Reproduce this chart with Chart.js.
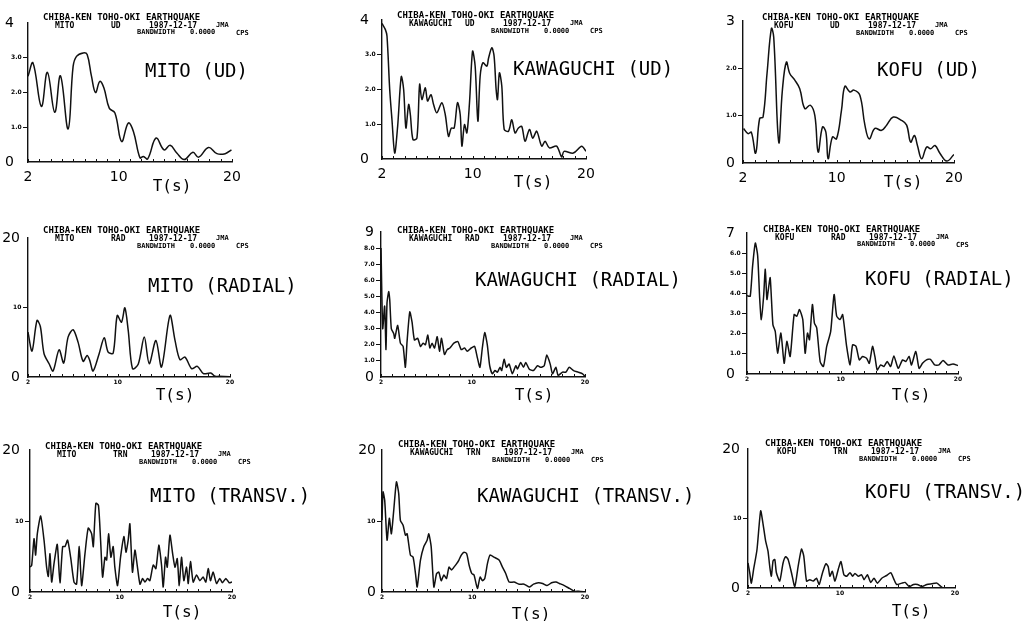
<!DOCTYPE html>
<html>
<head>
<meta charset="utf-8">
<script src="https://cdn.jsdelivr.net/npm/chart.js@4.4.1/dist/chart.umd.min.js"></script>
<style>
  html, body { margin: 0; padding: 0; background: #fff; overflow: hidden; width: 1023px; height: 621px; }
  canvas { position: absolute; }
</style>
</head>
<body>
<script>
// periods (s) and spectral amplitudes
var mitoUdT = [2.0,2.44,3.18,3.71,4.36,4.86,5.54,5.98,6.28,6.87,7.22,7.6,7.96,8.34,8.7,9.17,9.67,10.26,10.85,11.3,11.88,12.18,12.56,13.3,14.0,14.54,15.13,15.78,16.55,17.05,17.93,18.67,19.4,19.95];
var mitoUdA = [2.47,2.85,1.6,2.58,1.43,2.48,0.95,2.75,3.04,3.14,3.09,2.47,2.0,2.32,2.13,1.55,1.41,0.59,1.12,0.88,0.12,0.16,0.09,0.69,0.35,0.48,0.26,0.07,0.28,0.14,0.42,0.24,0.24,0.35];

var kawaUdT = [2.0,2.29,2.44,2.68,2.88,3.12,3.38,3.7,3.91,4.11,4.35,4.5,4.73,5.08,5.32,5.52,5.82,6.02,6.32,6.55,6.84,7.28,7.58,7.87,8.11,8.37,8.66,8.9,9.05,9.28,9.49,9.72,9.99,10.22,10.46,10.66,10.9,11.25,11.4,11.69,11.89,12.07,12.19,12.36,12.57,12.78,13.16,13.45,13.74,14.04,14.33,14.62,15.01,15.3,15.65,16.09,16.39,16.77,17.41,17.85,18.06,18.88,19.62,20.0];
var kawaUdA = [3.9,3.73,3.54,2.0,1.13,0.17,0.94,2.37,2.0,0.89,1.57,1.28,0.56,0.6,2.15,1.71,2.05,1.67,1.85,1.57,1.33,1.62,1.28,0.65,0.89,0.89,1.62,1.28,0.37,0.99,0.75,1.62,3.1,2.67,1.09,2.38,2.77,2.67,2.9,3.2,2.96,2.0,1.71,2.48,2.1,0.85,0.8,1.13,0.75,0.89,0.94,0.51,0.85,0.6,0.8,0.37,0.51,0.32,0.37,0.06,0.22,0.17,0.37,0.22];

var kofuUdT = [2.05,2.43,2.71,3.08,3.42,3.71,4.05,4.42,4.62,5.05,5.36,5.7,5.99,6.42,6.84,7.27,7.75,8.13,8.41,8.78,9.07,9.26,9.63,9.98,10.4,10.69,11.12,11.46,11.97,12.4,12.77,13.25,13.82,14.25,14.82,15.53,15.96,16.3,16.62,16.88,17.24,17.67,18.01,18.38,18.81,19.38,20.0];
var kofuUdA = [0.73,0.62,0.65,0.21,0.94,0.97,1.89,2.84,2.66,0.44,1.54,2.13,1.89,1.75,1.57,1.15,1.22,1.0,0.23,0.76,0.65,0.09,0.55,0.51,1.11,1.62,1.5,1.54,1.43,0.8,0.51,0.73,0.69,0.8,0.97,0.9,0.8,0.44,0.58,0.37,0.09,0.34,0.3,0.37,0.2,0.04,0.18];

var mitoRadT = [2.0,2.36,2.8,3.1,3.43,3.88,4.23,4.77,5.18,5.57,6.02,6.46,6.91,7.27,7.5,7.8,8.34,8.79,9.14,9.59,9.95,10.33,10.63,10.93,11.31,11.82,12.36,12.8,13.4,13.9,14.65,15.1,15.54,15.99,16.58,17.09,17.63,18.28,18.67,19.0,20.0];
var mitoRadA = [6.46,3.73,8.13,7.27,3.35,1.91,0.86,3.92,2.0,5.74,6.8,5.02,2.25,3.11,2.39,0.86,3.35,5.65,3.59,3.44,8.85,7.89,9.95,6.7,1.2,1.82,5.74,1.91,5.26,1.44,8.85,5.26,2.49,2.87,1.2,1.53,0.48,0.57,0.1,0.1,0.05];

var kawaRadT = [2.0,2.15,2.32,2.44,2.53,2.68,2.77,2.91,3.12,3.21,3.47,3.71,3.95,4.15,4.3,4.54,4.74,4.95,5.24,5.48,5.72,5.92,6.13,6.31,6.51,6.72,6.96,7.16,7.34,7.6,7.84,8.08,8.43,8.78,9.08,9.37,9.61,9.96,10.26,10.5,10.73,10.94,11.15,11.38,11.59,11.82,12.06,12.27,12.5,12.65,12.86,13.06,13.3,13.59,13.89,14.04,14.33,14.57,14.77,15.07,15.45,15.81,16.1,16.4,16.63,16.93,17.13,17.43,17.63,18.02,18.31,18.61,18.99,19.4,19.79,20.0];
var kawaRadA = [8.0,3.0,4.4,1.7,4.6,5.3,4.8,3.0,2.7,2.4,3.2,2.1,1.9,0.6,2.2,4.04,3.4,2.3,2.4,1.9,2.1,2.0,2.6,1.8,2.1,1.8,2.5,1.6,2.4,1.4,1.7,1.8,2.1,2.2,1.7,1.8,1.6,1.8,1.9,1.2,0.6,1.8,2.76,2.0,0.7,0.2,0.4,0.3,0.6,0.4,1.1,0.6,0.8,0.2,0.7,0.5,0.9,0.6,0.9,0.5,0.4,0.7,0.6,0.7,1.36,0.8,0.2,0.6,0.1,0.3,0.3,0.6,0.4,0.3,0.2,0.04];

var kofuRadT = [2.0,2.08,2.28,2.48,2.71,2.91,3.08,3.22,3.42,3.56,3.7,3.84,3.98,4.21,4.41,4.61,4.89,5.17,5.4,5.68,6.02,6.25,6.48,6.76,6.96,7.16,7.33,7.58,7.75,7.95,8.24,8.52,8.8,9.14,9.43,9.65,9.94,10.16,10.5,10.79,11.01,11.3,11.58,11.86,12.2,12.43,12.71,12.91,13.11,13.4,13.68,13.96,14.25,14.53,14.9,15.27,15.55,15.83,16.03,16.4,16.68,16.97,17.31,17.65,18.01,18.38,18.72,19.15,19.57,20.0];
var kofuRadA = [3.9,3.87,3.87,5.37,6.5,5.87,3.78,2.7,3.87,5.2,3.7,4.28,4.78,2.45,2.12,1.03,2.03,0.53,1.62,0.87,2.95,2.87,3.2,2.7,1.03,2.03,1.7,3.45,2.53,2.28,0.62,0.37,1.37,2.12,3.95,2.87,2.7,2.95,1.37,0.45,1.45,1.37,0.7,0.87,0.78,0.53,1.37,0.87,0.2,0.45,0.37,0.62,0.37,0.9,0.28,0.7,0.62,0.87,0.45,1.12,0.28,0.53,0.7,0.73,0.45,0.45,0.67,0.45,0.5,0.42];

var mitoTrnT = [2.0,2.15,2.36,2.5,2.65,2.95,3.25,3.48,3.63,3.78,3.93,4.14,4.43,4.67,4.91,5.12,5.35,5.62,5.92,6.15,6.39,6.6,6.9,7.19,7.49,7.64,7.87,8.1,8.29,8.47,8.68,8.83,9.0,9.21,9.41,9.56,9.8,10.07,10.37,10.55,10.75,10.9,11.13,11.35,11.55,11.8,12.03,12.24,12.48,12.68,12.98,13.22,13.48,13.72,13.87,14.08,14.23,14.47,14.71,14.92,15.12,15.3,15.5,15.71,15.95,16.1,16.3,16.54,16.84,17.13,17.43,17.67,17.88,18.08,18.32,18.62,18.91,19.15,19.45,19.75,20.0];
var mitoTrnA = [3.53,3.76,7.5,5.2,8.2,10.7,7.3,3.5,2.2,5.4,1.4,4.0,6.7,1.3,6.4,6.4,7.3,4.9,1.4,1.1,6.4,0.9,5.4,9.0,8.2,6.4,12.5,12.2,7.3,2.1,4.9,4.5,8.2,4.9,6.4,3.5,0.9,4.9,7.8,5.6,7.3,9.6,2.8,5.9,3.8,1.1,1.9,1.4,1.9,1.6,3.8,3.3,6.6,3.8,0.7,4.9,3.5,8.0,5.4,3.5,4.7,0.9,4.9,1.6,3.5,1.2,4.3,1.4,2.4,1.6,2.1,1.4,3.3,1.6,2.8,1.2,1.9,1.3,1.9,1.3,1.4];

var kawaTrnT = [2.0,2.09,2.24,2.45,2.65,2.83,3.04,3.28,3.48,3.63,3.87,4.08,4.23,4.52,4.76,4.97,5.12,5.41,5.71,6.0,6.15,6.36,6.6,6.84,7.04,7.25,7.49,7.72,7.94,8.17,8.38,8.62,8.82,9.03,9.27,9.51,9.72,9.96,10.16,10.46,10.7,10.9,11.11,11.35,11.58,11.94,12.38,12.68,12.97,13.27,13.71,14.16,14.6,15.05,15.44,15.86,16.24,16.63,17.04,17.43,17.73,18.17,18.62,19.07,19.43,20.0];
var kawaTrnA = [10.1,14.1,12.9,7.3,10.4,8.2,11.5,15.5,13.9,10.1,9.4,8.0,8.2,5.2,4.9,2.6,0.7,4.5,6.4,7.3,8.2,6.4,0.7,2.6,2.8,1.6,2.4,1.9,3.5,3.1,3.5,4.0,4.5,5.2,5.6,5.4,3.8,2.6,2.4,0.5,2.1,1.6,1.9,4.0,5.2,4.9,4.5,3.5,2.6,1.4,1.4,1.1,1.1,0.7,1.1,1.3,1.2,0.9,1.3,1.4,1.2,0.9,0.5,0.1,0.1,0.0];

var kofuTrnT = [2.0,2.15,2.29,2.49,2.78,3.1,3.31,3.54,3.74,3.89,4.03,4.18,4.33,4.47,4.76,5.05,5.28,5.49,5.78,6.07,6.36,6.65,6.85,7.09,7.38,7.67,7.96,8.19,8.48,8.77,8.97,9.12,9.33,9.56,9.85,10.08,10.34,10.58,10.87,11.1,11.3,11.59,11.88,12.09,12.38,12.67,12.96,13.25,13.63,14.06,14.41,14.7,14.93,15.37,15.66,16.04,16.39,16.74,17.12,17.55,17.99,18.42,18.72,19.0,20.0];
var kofuTrnA = [3.6,2.2,0.7,2.7,5.5,11.1,9.2,6.7,5.3,3.1,1.7,3.9,4.1,2.2,1.0,3.6,4.5,4.1,2.2,0.2,3.1,5.6,4.6,1.0,1.2,1.0,1.4,0.5,2.2,3.5,3.1,1.7,2.4,1.0,2.7,3.8,1.9,1.7,2.2,1.7,2.1,1.7,1.9,1.2,1.9,0.8,1.4,0.7,1.4,1.8,2.2,1.2,0.5,0.7,0.8,0.2,0.5,0.5,0.2,0.5,0.6,0.7,0.3,0.0,0.0];

// tick values and labels
var xMinorTicks = [2,3,4,5,6,7,8,9,10,11,12,13,14,15,16,17,18,19,20];
var xTickLabels = [2, 10, 20];
var udTicks = [1, 2, 3];
var udTickLabels = ["1.0", "2.0", "3.0"];
var kofuUdTicks = [1, 2];
var kofuUdTickLabels = ["1.0", "2.0"];
var kawaRadTicks = [1, 2, 3, 4, 5, 6, 7, 8];
var kawaRadTickLabels = ["1.0", "2.0", "3.0", "4.0", "5.0", "6.0", "7.0", "8.0"];
var kofuRadTicks = [1, 2, 3, 4, 5, 6];
var kofuRadTickLabels = ["1.0", "2.0", "3.0", "4.0", "5.0", "6.0"];
var tenTicks = [10];
var tenTickLabels = ["10"];

Chart.defaults.font.family = "'DejaVu Sans', sans-serif";
Chart.defaults.color = "#000";

var TINY_FONT = "bold 6px 'DejaVu Sans', sans-serif";
var measureCtx = document.createElement("canvas").getContext("2d");
measureCtx.font = TINY_FONT;
function widest(labels) {
  return Math.max.apply(null, labels.map(function(s) { return measureCtx.measureText(s).width; }));
}

// header, big station label, T(s) and upward minor ticks
var panelText = {
  id: "panelText",
  afterDraw: function(chart, args, o) {
    var a = chart.chartArea, ctx = chart.ctx, xs = chart.scales.x;
    ctx.save();
    ctx.strokeStyle = "#111";
    ctx.lineWidth = 1;
    xs.ticks.forEach(function(t) {
      var px = Math.round(xs.getPixelForValue(t.value)) + 0.5;
      ctx.beginPath();
      ctx.moveTo(px, a.bottom);
      ctx.lineTo(px, a.bottom - 3);
      ctx.stroke();
    });
    ctx.fillStyle = "#000";
    ctx.textBaseline = "alphabetic";
    var x0 = a.left + o.hx, y0 = a.top + o.hy;
    ctx.font = "bold 9px 'DejaVu Sans Mono'";
    ctx.fillText("CHIBA-KEN TOHO-OKI EARTHQUAKE", x0, y0);
    ctx.font = "bold 8px 'DejaVu Sans Mono'";
    ctx.fillText(o.station, x0 + 12, y0 + 8);
    ctx.fillText(o.comp, x0 + 68, y0 + 8);
    ctx.fillText("1987-12-17", x0 + 106, y0 + 8);
    ctx.font = "bold 7px 'DejaVu Sans Mono'";
    ctx.fillText("JMA", x0 + 173, y0 + 7);
    ctx.fillText("BANDWIDTH", x0 + 94, y0 + 14.5);
    ctx.fillText("0.0000", x0 + 147, y0 + 14.5);
    ctx.fillText("CPS", x0 + 193, y0 + 15);
    ctx.font = "19px 'DejaVu Sans Mono'";
    ctx.fillText(o.label, a.left + o.lx, a.top + o.ly);
    ctx.font = "16px 'DejaVu Sans Mono'";
    ctx.textAlign = "center";
    ctx.textBaseline = "middle";
    ctx.fillText("T(s)", a.left + o.tx, a.bottom + o.ty);
    ctx.restore();
  }
};

var panels = [
  { t: mitoUdT, a: mitoUdA, ymax: 4, ticks: udTicks, labels: udTickLabels, station: "MITO", comp: "UD", name: "MITO (UD)",
    plot: [28, 23, 232, 162], big: true, inner: 13, tension: 0.4, hx: 15, hy: -3.5, lx: 117, ly: 54, tx: 144, ty: 25 },
  { t: kawaUdT, a: kawaUdA, ymax: 4, ticks: udTicks, labels: udTickLabels, station: "KAWAGUCHI", comp: "UD", name: "KAWAGUCHI (UD)",
    plot: [382, 20, 586, 159], big: true, inner: 12, tension: 0.3, hx: 15, hy: -2, lx: 131, ly: 55, tx: 151, ty: 24 },
  { t: kofuUdT, a: kofuUdA, ymax: 3, ticks: kofuUdTicks, labels: kofuUdTickLabels, station: "KOFU", comp: "UD", name: "KOFU (UD)",
    plot: [743, 21, 954, 163], big: true, inner: 7, tension: 0.4, hx: 19, hy: -1, lx: 134, ly: 55, tx: 160, ty: 20 },
  { t: mitoRadT, a: mitoRadA, ymax: 20, ticks: tenTicks, labels: tenTickLabels, station: "MITO", comp: "RAD", name: "MITO (RADIAL)",
    plot: [28, 238, 230, 377], big: false, inner: 7, tension: 0.3, hx: 15, hy: -5, lx: 120, ly: 54, tx: 147, ty: 19 },
  { t: kawaRadT, a: kawaRadA, ymax: 9, ticks: kawaRadTicks, labels: kawaRadTickLabels, station: "KAWAGUCHI", comp: "RAD", name: "KAWAGUCHI (RADIAL)",
    plot: [381, 232, 585, 377], big: false, inner: 6, tension: 0.2, hx: 16, hy: 1, lx: 94, ly: 54, tx: 153, ty: 19 },
  { t: kofuRadT, a: kofuRadA, ymax: 7, ticks: kofuRadTicks, labels: kofuRadTickLabels, station: "KOFU", comp: "RAD", name: "KOFU (RADIAL)",
    plot: [747, 233, 958, 374], big: false, inner: 11, tension: 0.2, hx: 16, hy: -1.5, lx: 118, ly: 52, tx: 164, ty: 22 },
  { t: mitoTrnT, a: mitoTrnA, ymax: 20, ticks: tenTicks, labels: tenTickLabels, station: "MITO", comp: "TRN", name: "MITO (TRANSV.)",
    plot: [30, 450, 232, 592], big: false, inner: 9, tension: 0.2, hx: 15, hy: -1, lx: 120, ly: 52, tx: 152, ty: 21 },
  { t: kawaTrnT, a: kawaTrnA, ymax: 20, ticks: tenTicks, labels: tenTickLabels, station: "KAWAGUCHI", comp: "TRN", name: "KAWAGUCHI (TRANSV.)",
    plot: [382, 450, 585, 592], big: false, inner: 5, tension: 0.2, hx: 16, hy: -3, lx: 95, ly: 52, tx: 149, ty: 23 },
  { t: kofuTrnT, a: kofuTrnA, ymax: 20, ticks: tenTicks, labels: tenTickLabels, station: "KOFU", comp: "TRN", name: "KOFU (TRANSV.)",
    plot: [748, 449, 955, 588], big: false, inner: 7, tension: 0.2, hx: 17, hy: -3, lx: 117, ly: 49, tx: 163, ty: 24 }
];

var BIGW = 19, TOP = 32, BOTTOM = 36, RIGHT = 115;

panels.forEach(function(p) {
  var left = BIGW + p.inner;
  var c = document.createElement("canvas");
  c.width = p.plot[2] - p.plot[0] + left + RIGHT;
  c.height = p.plot[3] - p.plot[1] + TOP + BOTTOM;
  c.style.left = (p.plot[0] - left) + "px";
  c.style.top = (p.plot[1] - TOP) + "px";
  document.body.appendChild(c);

  var pts = p.t.map(function(x, i) { return { x: x, y: p.a[i] }; });
  // tiny labels are mirrored (left aligned from the axis) and pulled back outside
  var tinyPad = -(Math.ceil(widest(p.labels)) + 6);

  new Chart(c, {
    type: "line",
    data: {
      datasets: [{
        data: pts,
        borderColor: "#111",
        borderWidth: 1.5,
        pointRadius: 0,
        tension: p.tension,
        fill: false
      }]
    },
    options: {
      responsive: false,
      animation: false,
      layout: { padding: { top: TOP, right: RIGHT, left: 0, bottom: 0 } },
      plugins: {
        legend: { display: false },
        tooltip: { enabled: false },
        panelText: { station: p.station, comp: p.comp, label: p.name, hx: p.hx, hy: p.hy, lx: p.lx, ly: p.ly, tx: p.tx, ty: p.ty }
      },
      scales: {
        x: {
          type: "linear",
          min: 2,
          max: 20,
          afterBuildTicks: function(s) { s.ticks = xMinorTicks.map(function(v) { return { value: v }; }); },
          afterFit: function(s) { s.height = BOTTOM; },
          ticks: {
            autoSkip: false,
            maxRotation: 0,
            padding: p.big ? 7 : 2,
            font: p.big ? { size: 14 } : { size: 6, weight: "bold" },
            callback: function(v) { return xTickLabels.indexOf(v) >= 0 ? String(v) : ""; }
          },
          grid: { display: true, drawOnChartArea: false, drawTicks: false },
          border: { color: "#111", width: 1.4 }
        },
        y: {
          min: 0,
          max: p.ymax,
          position: "left",
          weight: 0,
          afterBuildTicks: function(s) { s.ticks = p.ticks.map(function(v) { return { value: v }; }); },
          afterFit: function(s) { s.width = p.inner; },
          ticks: {
            mirror: true,
            padding: tinyPad,
            font: { size: 6, weight: "bold" },
            callback: function(v) { var i = p.ticks.indexOf(v); return i >= 0 ? p.labels[i] : ""; }
          },
          grid: { drawOnChartArea: false, tickLength: 5, color: "#111" },
          border: { color: "#111", width: 1.4 }
        },
        yBig: {
          min: 0,
          max: p.ymax,
          position: "left",
          weight: 1,
          afterBuildTicks: function(s) { s.ticks = [{ value: 0 }, { value: p.ymax }]; },
          afterFit: function(s) { s.width = BIGW; },
          ticks: { padding: 1, font: { size: 14 } },
          grid: { display: false, drawTicks: false, tickLength: 0 },
          border: { display: false }
        }
      }
    },
    plugins: [panelText]
  });
});
</script>
</body>
</html>
